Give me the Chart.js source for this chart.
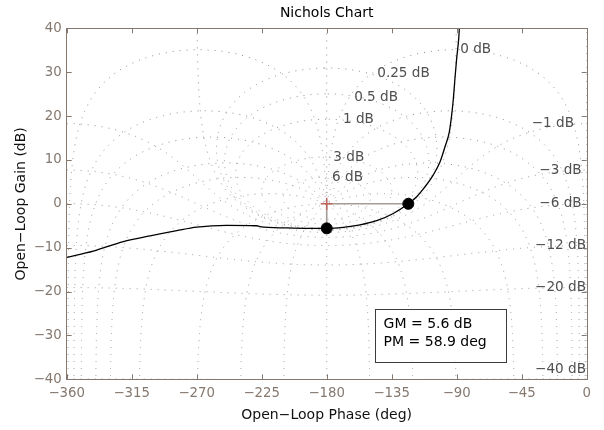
<!DOCTYPE html>
<html>
<head>
<meta charset="utf-8">
<script src="https://cdn.jsdelivr.net/npm/chart.js@4.4.0/dist/chart.umd.min.js"></script>
<style>
  html, body { margin: 0; padding: 0; background: #fff; }
</style>
</head>
<body>
<canvas id="nichols" width="604" height="430"></canvas>
<script>
// open-loop response (phase in deg, gain in dB)
var respPhase = [-360, -341.6, -320.8, -302.3, -283.8, -270, -249.2, -228.5, -226.2, -207.7, -191.6, -180,
                 -168.5, -156.9, -145.4, -133.9, -123.5, -117.7, -111.9, -106.2, -101.5, -98.1, -95.1, -93.5,
                 -92.3, -91.2, -90.0, -88.6, -88.2, -87.8];
var respGain = [-12.2, -10.8, -8.6, -7.3, -6.1, -5.3, -4.9, -5.0, -5.2, -5.5, -5.6, -5.6,
                -5.35, -4.8, -3.85, -2.2, 0, 1.6, 3.9, 6.6, 9.6, 13.0, 16.4, 20.2,
                24.0, 28.6, 33.2, 37.7, 39.9, 44];

// stability margins
var gmPoint = { x: -180, y: -5.6 };
var pmPoint = { x: -123.5, y: 0 };
var critPoint = { x: -180, y: 0 };
var marginText = ['GM = 5.6 dB', 'PM = 58.9 deg'];

// axes
var phaseMin = -360, phaseMax = 0, phaseStep = 45;
var gainMin = -40, gainMax = 40, gainStep = 10;

// Nichols grid: closed-loop gains (dB) and closed-loop phases (deg)
var gridGainsDb = [6, 3, 1, 0.5, 0.25, 0, -1, -3, -6, -12, -20, -40];
var gridPhasesDeg = [0, 1, 5, 10, 20, 30, 50, 90, 120, 150, 180];

// grid labels
var gridLabelText = ['0 dB', '0.25 dB', '0.5 dB', '1 dB', '3 dB', '6 dB',
                     '\u22121 dB', '\u22123 dB', '\u22126 dB', '\u221212 dB', '\u221220 dB', '\u221240 dB'];
var gridLabelPhase = [-87.6, -145, -161, -168.7, -175.4, -176.3, -38.1, -32.8, -32.8, -35.8, -35.8, -35.8];
var gridLabelGain = [35.1, 29.6, 24.3, 19.3, 10.6, 6.0, 18.2, 7.5, 0.15, -9.6, -19.1, -37.8];

var FONT = '"DejaVu Sans", sans-serif';
var AXIS_COLOR = '#84786f';

// closed loop T -> open loop L = T/(1-T), as a Nichols point
function olPoint(re, im) {
  var dr = 1 - re, di = -im;
  var den = dr * dr + di * di;
  if (den < 1e-14) return null;
  var lr = (re * dr + im * di) / den;
  var li = (im * dr - re * di) / den;
  var ph = Math.atan2(li, lr) * 180 / Math.PI;
  if (ph > 0) ph -= 360;
  var g = 10 * Math.log10(lr * lr + li * li);
  return { x: ph, y: Math.max(-200, Math.min(200, g)) };
}

function magContour(db) {
  var m = Math.pow(10, db / 20), pts = [];
  var edge = 20 * Math.log10(m / (1 - m));
  if (m < 1) pts.push({ x: -360, y: edge });
  for (var t = 0.05; t < 360; t += 0.1) {
    var a = t * Math.PI / 180;
    var p = olPoint(m * Math.cos(a), m * Math.sin(a));
    if (p) pts.push(p);
  }
  if (m < 1) pts.push({ x: 0, y: edge });
  else if (m > 1) pts.push(pts[0]);
  return pts;
}

function phaseContour(deg, sign) {
  var a = sign * deg * Math.PI / 180, pts = [];
  for (var k = -3; k <= 3.0001; k += 0.002) {
    var m = Math.pow(10, k);
    var p = olPoint(m * Math.cos(a), m * Math.sin(a));
    if (p) pts.push(p);
  }
  return pts;
}

function gridSet(pts) {
  return {
    data: pts, showLine: true, pointRadius: 0, borderColor: '#8e8e8e',
    borderWidth: 1, borderDash: [1, 6], order: 10, spanGaps: true
  };
}

var datasets = [];
gridGainsDb.forEach(function (g) { datasets.push(gridSet(magContour(g))); });
gridPhasesDeg.forEach(function (p) {
  datasets.push(gridSet(phaseContour(p, -1)));
  if (p > 0 && p < 180) datasets.push(gridSet(phaseContour(p, 1)));
});

datasets.push({
  data: respPhase.map(function (p, i) { return { x: p, y: respGain[i] }; }),
  showLine: true, pointRadius: 0, borderColor: '#000', borderWidth: 1.3,
  cubicInterpolationMode: 'monotone', order: 3
});
datasets.push({
  data: [pmPoint, critPoint, gmPoint],
  showLine: true, pointRadius: 0, borderColor: '#a59c96', borderWidth: 1.6, order: 2
});
datasets.push({
  data: [gmPoint, pmPoint], showLine: false, pointRadius: 5.5,
  pointBackgroundColor: '#000', pointBorderColor: '#000', order: 1
});
datasets.push({
  data: [critPoint], showLine: false, pointStyle: 'cross', pointRadius: 6,
  pointBorderColor: '#c0645e', pointBorderWidth: 1.5, order: 0
});

var decor = {
  id: 'decor',
  afterDraw: function (chart) {
    var ctx = chart.ctx, a = chart.chartArea;
    var xs = chart.scales.x, ys = chart.scales.y;
    ctx.save();
    // grid labels
    ctx.font = '13.6px ' + FONT;
    ctx.fillStyle = '#505050';
    ctx.textAlign = 'left';
    ctx.textBaseline = 'middle';
    gridLabelText.forEach(function (t, i) {
      ctx.fillText(t, xs.getPixelForValue(gridLabelPhase[i]), ys.getPixelForValue(gridLabelGain[i]));
    });
    // margins box
    var bx = xs.getPixelForValue(-146.5), bx2 = xs.getPixelForValue(-56);
    var by = ys.getPixelForValue(-24), by2 = ys.getPixelForValue(-36);
    ctx.fillStyle = '#fff';
    ctx.fillRect(bx, by, bx2 - bx, by2 - by);
    ctx.strokeStyle = '#3c3c3c';
    ctx.lineWidth = 1;
    ctx.strokeRect(Math.round(bx) + 0.5, Math.round(by) + 0.5, Math.round(bx2 - bx), Math.round(by2 - by));
    ctx.fillStyle = '#000';
    ctx.font = '14px ' + FONT;
    ctx.fillText(marginText[0], bx + 8.5, by + 15);
    ctx.fillText(marginText[1], bx + 8.5, by + 33.5);
    // axes box and inward ticks
    ctx.strokeStyle = AXIS_COLOR;
    ctx.lineWidth = 1;
    ctx.strokeRect(Math.round(a.left) - 0.5, Math.round(a.top) + 0.5,
                   Math.round(a.right - a.left) + 1, Math.round(a.bottom - a.top));
    ctx.beginPath();
    for (var v = phaseMin; v <= phaseMax; v += phaseStep) {
      var px = Math.round(xs.getPixelForValue(v)) + 0.5;
      ctx.moveTo(px, a.top); ctx.lineTo(px, a.top + 5);
      ctx.moveTo(px, a.bottom); ctx.lineTo(px, a.bottom - 5);
    }
    for (var g = gainMin; g <= gainMax; g += gainStep) {
      var py = Math.round(ys.getPixelForValue(g)) + 0.5;
      ctx.moveTo(a.left, py); ctx.lineTo(a.left + 5, py);
      ctx.moveTo(a.right, py); ctx.lineTo(a.right - 5, py);
    }
    ctx.stroke();
    // title
    ctx.fillStyle = '#000';
    ctx.font = '14px ' + FONT;
    ctx.textAlign = 'center';
    ctx.fillText('Nichols Chart', (a.left + a.right) / 2, 13);
    ctx.restore();
  }
};

function minusFmt(v) { return v < 0 ? '\u2212' + Math.abs(v) : String(v); }

new Chart(document.getElementById('nichols'), {
  type: 'scatter',
  data: { datasets: datasets },
  options: {
    responsive: false,
    animation: false,
    events: [],
    layout: { padding: { left: 0, right: 17.3, top: 28.3, bottom: 0 } },
    plugins: { legend: { display: false }, tooltip: { enabled: false } },
    scales: {
      x: {
        type: 'linear', min: phaseMin, max: phaseMax,
        grid: { display: false, drawTicks: false },
        border: { display: false },
        ticks: { stepSize: phaseStep, padding: 6, color: AXIS_COLOR, maxRotation: 0,
                 font: { family: FONT, size: 13.3 }, callback: minusFmt },
        title: { display: true, text: 'Open\u2212Loop Phase (deg)', color: '#111',
                 font: { family: FONT, size: 14 }, padding: { top: 0, bottom: 6.6 } },
        afterFit: function (s) { s.height = 50.7; }
      },
      y: {
        type: 'linear', min: gainMin, max: gainMax,
        grid: { display: false, drawTicks: false },
        border: { display: false },
        ticks: { stepSize: gainStep, padding: 5, color: AXIS_COLOR,
                 font: { family: FONT, size: 13.3 }, callback: minusFmt },
        title: { display: true, text: 'Open\u2212Loop Gain (dB)', color: '#111',
                 font: { family: FONT, size: 14 }, padding: { top: 12.6, bottom: 0 } },
        afterFit: function (s) { s.width = 66.7; }
      }
    }
  },
  plugins: [decor]
});
</script>
</body>
</html>
